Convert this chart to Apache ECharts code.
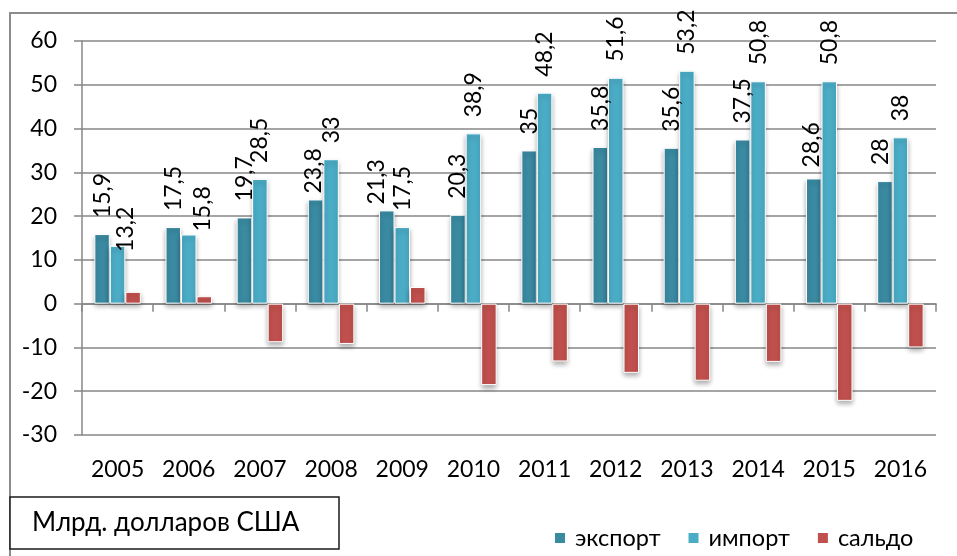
<!DOCTYPE html>
<html>
<head>
<meta charset="utf-8">
<script src="https://cdn.jsdelivr.net/npm/echarts@6/dist/echarts.min.js"></script>
<style>
html,body{margin:0;padding:0;background:#fff;}
#chart{width:957px;height:556px;}
</style>
</head>
<body>
<div id="chart"></div>
<script>
const categories = ['2005','2006','2007','2008','2009','2010','2011','2012','2013','2014','2015','2016'];
const exportValues = [15.9, 17.5, 19.7, 23.8, 21.3, 20.3, 35, 35.8, 35.6, 37.5, 28.6, 28];
const importValues = [13.2, 15.8, 28.5, 33, 17.5, 38.9, 48.2, 51.6, 53.2, 50.8, 50.8, 38];
const saldoValues = [2.7, 1.7, -8.8, -9.2, 3.8, -18.6, -13.2, -15.8, -17.6, -13.3, -22.2, -10];
const seriesNames = ['экспорт', 'импорт', 'сальдо'];
const unitText = 'Млрд. долларов США';
const yMin = -30, yMax = 60, yStep = 10;

const FONT = 'Lato';
const colors = ['#3a8aa2', '#4bacc6', '#c0504d'];
const gridColor = '#878787';

// manual label nudges in screen pixels [dx, dy] (style only), as in the original layout
const exportLabelNudge = {3: [-2, 10], 4: [-10, 10], 10: [-2, 5], 11: [-4, 0]};
const importLabelNudge = {0: [8, 22], 1: [14, 13]};

function fmt(p){ return String(p.value).replace('.', ','); }

const baseLabel = {
  show: true, position: 'top', rotate: 90, align: 'left', verticalAlign: 'middle',
  distance: 16, fontFamily: FONT, fontSize: 23, color: '#000', formatter: fmt
};

function barItemStyle(c){
  return {color: c, borderColor: '#ffffff', borderWidth: 1,
    shadowColor: 'rgba(0,0,0,0.32)', shadowBlur: 5, shadowOffsetY: 3};
}

// label offset is applied in the rotated (90°) label frame: screen (dx,dy) -> [-dy, dx]
function withNudges(values, nudges){
  return values.map((v, i) => {
    const n = nudges[i];
    return n ? {value: v, label: {offset: [-n[1], n[0]]}} : v;
  });
}

const chart = echarts.init(document.getElementById('chart'), null, {renderer: 'canvas'});
chart.setOption({
  animation: false,
  textStyle: {fontFamily: FONT},
  grid: {left: 82, right: 21, top: 41, bottom: 121, containLabel: false},
  legend: {
    data: seriesNames, icon: 'rect', itemWidth: 12, itemHeight: 12, itemGap: 26,
    left: 548, top: 521,
    textStyle: {fontFamily: FONT, fontSize: 23.5, color: '#000', padding: [0,0,0,4]}
  },
  xAxis: [
    {type: 'category', data: categories, position: 'bottom',
     axisLine: {onZero: true, lineStyle: {color: gridColor, width: 1.5}},
     axisTick: {show: true, length: 8, lineStyle: {color: gridColor, width: 1.5}},
     axisLabel: {show: false}, splitLine: {show: false}},
    {type: 'category', data: categories, position: 'bottom',
     axisLine: {show: false, onZero: false}, axisTick: {show: false},
     axisLabel: {show: true, margin: 23, fontFamily: FONT, fontSize: 23, color: '#000'},
     splitLine: {show: false}}
  ],
  yAxis: {
    type: 'value', min: yMin, max: yMax, interval: yStep,
    axisLine: {show: true, lineStyle: {color: gridColor, width: 1.5}},
    axisTick: {show: true, length: 8, lineStyle: {color: gridColor, width: 1.5}},
    axisLabel: {margin: 25, fontFamily: FONT, fontSize: 23, color: '#000'},
    splitLine: {show: true, lineStyle: {color: gridColor, width: 1.5}}
  },
  series: [
    {name: seriesNames[0], type: 'bar', xAxisIndex: 0, data: withNudges(exportValues, exportLabelNudge),
     barWidth: 15.5, barGap: '0%', itemStyle: barItemStyle(colors[0]), label: baseLabel},
    {name: seriesNames[1], type: 'bar', xAxisIndex: 0, data: withNudges(importValues, importLabelNudge),
     barWidth: 15.5, barGap: '0%', itemStyle: barItemStyle(colors[1]), label: baseLabel},
    {name: seriesNames[2], type: 'bar', xAxisIndex: 0, data: saldoValues,
     barWidth: 15.5, barGap: '0%', itemStyle: barItemStyle(colors[2]), label: {show: false}}
  ],
  graphic: [
    {type: 'polyline', silent: true, shape: {points: [[10, 556], [10, 13], [957, 13]]},
     style: {stroke: '#8c8c8c', lineWidth: 2, fill: null}},
    {type: 'rect', silent: true, shape: {x: 10, y: 497, width: 329, height: 52},
     style: {stroke: '#1a1a1a', lineWidth: 1.5, fill: '#fff'}},
    {type: 'text', silent: true, left: 32, top: 510,
     style: {text: unitText, fontFamily: FONT, fontSize: 26, fill: '#000'}}
  ]
});
</script>
</body>
</html>
